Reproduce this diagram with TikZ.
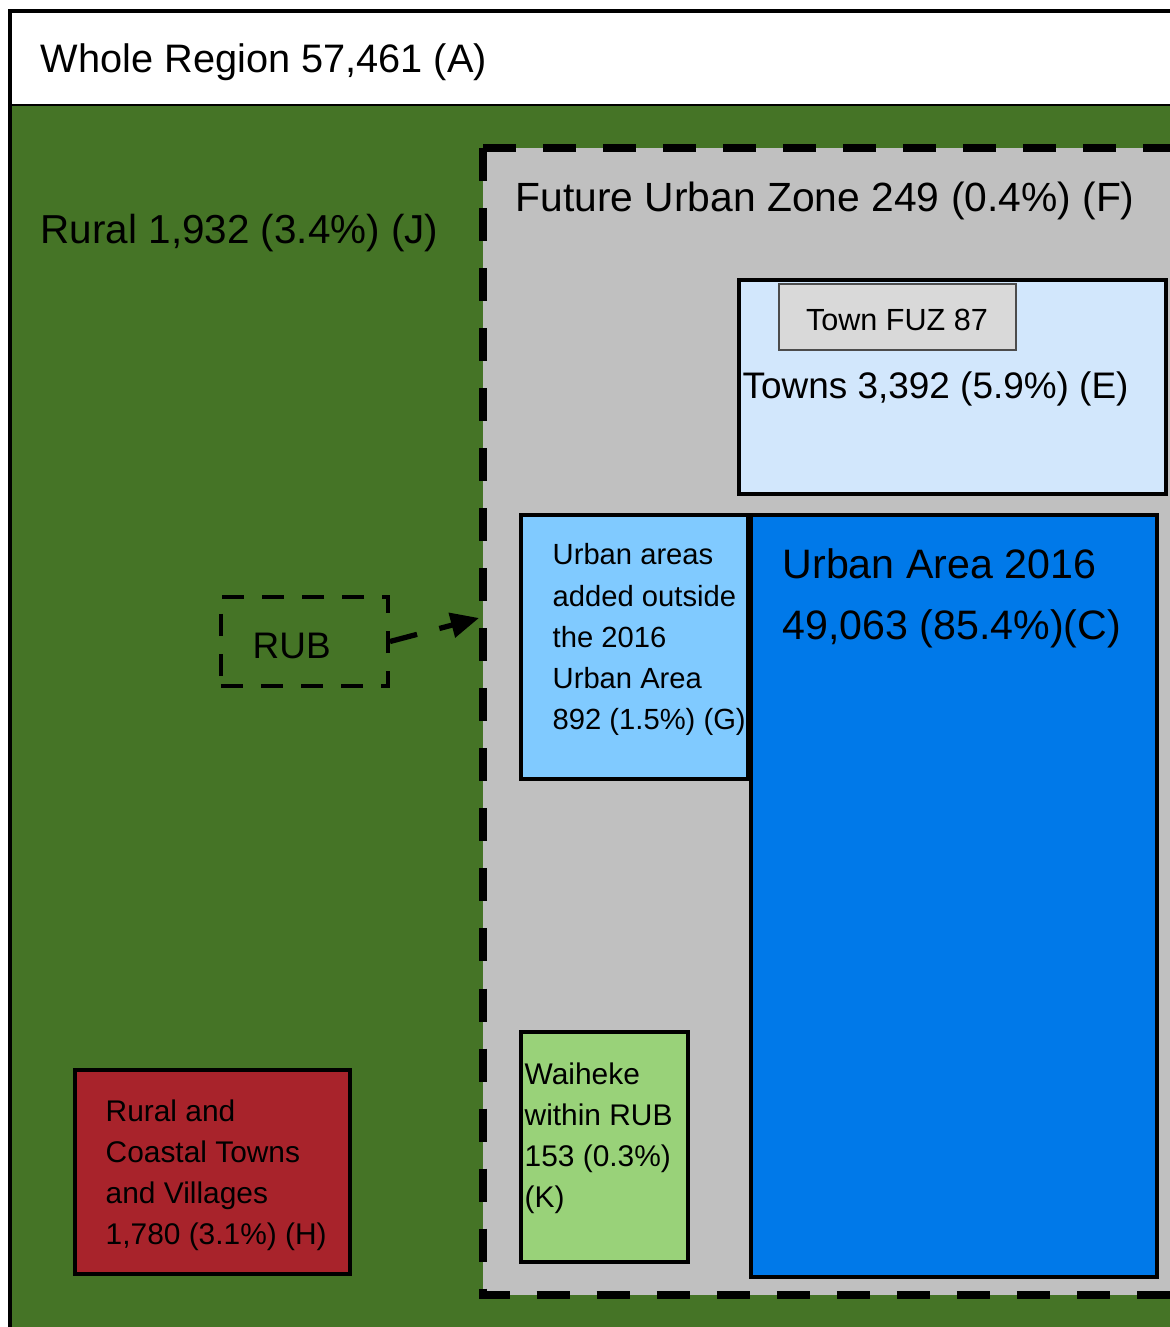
\documentclass[tikz,border=0pt]{standalone}
\usepackage{fontspec}
\setmainfont{Liberation Sans}
\usetikzlibrary{arrows.meta}
\definecolor{ruralgreen}{RGB}{69,116,38}
\definecolor{fuzgrey}{RGB}{192,192,192}
\definecolor{townsblue}{RGB}{210,231,252}
\definecolor{townfuzgrey}{RGB}{217,217,217}
\definecolor{addedblue}{RGB}{128,202,255}
\definecolor{urbanblue}{RGB}{0,121,233}
\definecolor{waihekegreen}{RGB}{153,210,121}
\definecolor{villagered}{RGB}{168,35,43}
\newcommand{\setsz}[2]{\fontsize{#1pt}{#2pt}\selectfont}
\begin{document}
\begin{tikzpicture}[x=0.01cm,y=-0.01cm,
  box/.style={draw=black,line width=1.1pt},
  lbl/.style={inner sep=0pt,anchor=base west,font=\setsz{11.5}{14}},
  mlbl/.style={inner sep=0pt,anchor=north west,align=left,font=\setsz{8.5}{11.7}}]
  \useasboundingbox (0,0) rectangle (1170,1327);
  \clip (0,0) rectangle (1170,1327);

  % whole region
  \fill[white] (0,0) rectangle (1170,1327);
  \fill[ruralgreen] (10,105) rectangle (1180,1340);
  \draw[line width=0.6pt] (10,105) -- (1180,105);
  \draw[line width=0.9pt] (1180,11) -- (10,11) -- (10,1340);
  \node[lbl,font=\setsz{11.3}{14}] (whole) at (40,72) {Whole Region 57,461 (A)};
  \node[lbl] (rural) at (40,243) {Rural 1,932 (3.4\%) (J)};

  % future urban zone
  \fill[fuzgrey] (483,148) rectangle (1180,1295);
  \draw[line width=2pt,dash pattern=on 0.33cm off 0.27cm] (483,148) -- (1180,148);
  \draw[line width=2pt,dash pattern=on 0.33cm off 0.27cm] (483,148) -- (483,1295) -- (1180,1295);
  \node[lbl,font=\setsz{11.6}{14}] (fuz) at (515,211) {Future Urban Zone 249 (0.4\%) (F)};

  % towns
  \draw[box,fill=townsblue] (739,280) rectangle (1166,494);
  \draw[draw=black!70,line width=0.5pt,fill=townfuzgrey] (779,284) rectangle (1016,350);
  \node[inner sep=0pt,anchor=base,font=\setsz{8.7}{10}] (townfuz) at (897,330) {Town FUZ 87};
  \node[lbl,font=\setsz{10.5}{12}] (towns) at (742,398) {Towns 3,392 (5.9\%) (E)};

  % urban area
  \draw[box,line width=1.4pt,fill=addedblue] (521,515) rectangle (748,779);
  \draw[box,fill=urbanblue] (751,515) rectangle (1157,1277);
  \node[mlbl,font=\setsz{11.7}{17.4}] (urban) at (782,548) {Urban Area 2016\\49,063 (85.4\%)(C)};
  \node[mlbl,font=\setsz{8.3}{11.7}] (added) at (552,543) {Urban areas\\added outside\\the 2016\\Urban Area\\892 (1.5\%) (G)};

  % waiheke
  \draw[box,fill=waihekegreen] (521,1032) rectangle (688,1262);
  \node[mlbl] (waiheke) at (524,1062) {Waiheke\\within RUB\\153 (0.3\%)\\(K)};

  % rural and coastal
  \draw[box,line width=0.9pt,fill=villagered] (75,1070) rectangle (350,1274);
  \node[mlbl] (villages) at (105,1099) {Rural and\\Coastal Towns\\and Villages\\1,780 (3.1\%) (H)};

  % RUB
  \node[draw,line width=1.1pt,dash pattern=on 0.22cm off 0.18cm,minimum width=1.67cm,minimum height=0.89cm,inner sep=0pt] (rub) at (304.5,641.5) {};
  \node[lbl,font=\setsz{10.5}{12}] (rublbl) at (252,658) {RUB};
  \coordinate (fuzedge) at (479,618);
  \draw[line width=1.5pt,dash pattern=on 0.28cm off 0.23cm,-{Triangle[length=8pt,width=7pt]}] (rub.east) -- (fuzedge);
\end{tikzpicture}
\end{document}
